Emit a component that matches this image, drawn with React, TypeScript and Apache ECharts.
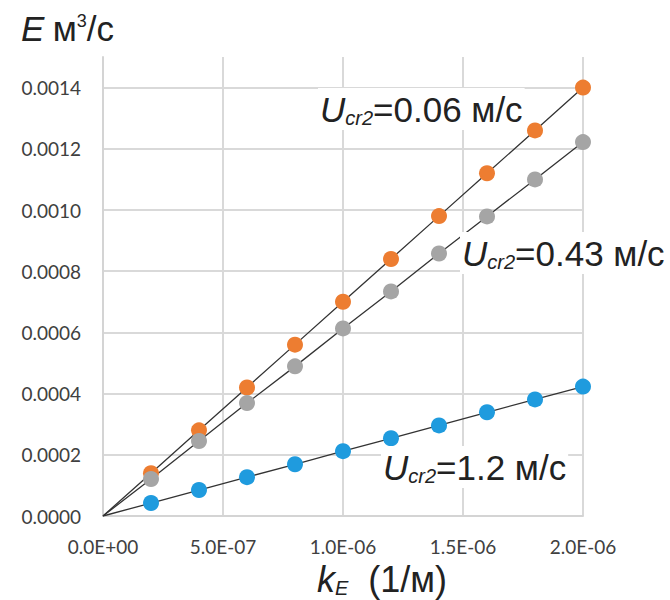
import React, { useEffect, useRef } from "react";
import * as echarts from "echarts";

const kValues = [2e-7, 4e-7, 6e-7, 8e-7, 1.0e-6, 1.2e-6, 1.4e-6, 1.6e-6, 1.8e-6, 2.0e-6];
const eU006 = [0.00014, 0.00028, 0.00042, 0.00056, 0.0007, 0.00084, 0.00098, 0.00112, 0.00126, 0.0014];
const eU043 = [0.000121, 0.000245, 0.000369, 0.000489, 0.000613, 0.000734, 0.000858, 0.000979, 0.0011, 0.001222];
const eU12 = [0.0000424, 0.0000848, 0.000127, 0.000169, 0.000212, 0.000254, 0.000296, 0.000339, 0.000381, 0.000423];

const seriesNames = ["Ucr2=0.06", "Ucr2=0.43", "Ucr2=1.2"];
const seriesColors = ["#ED7D31", "#A5A5A5", "#1F9BDE"];

const fmtSci = (v: number) => {
  if (Math.abs(v) < 1e-15) return "0.0E+00";
  let exp = Math.floor(Math.log10(Math.abs(v)) + 1e-9);
  let mant = v / Math.pow(10, exp);
  if (Math.round(mant * 10) / 10 >= 10) {
    exp += 1;
    mant = v / Math.pow(10, exp);
  }
  const sign = exp < 0 ? "-" : "+";
  return `${mant.toFixed(1)}E${sign}${String(Math.abs(exp)).padStart(2, "0")}`;
};

export default function App() {
  const ref = useRef<HTMLDivElement>(null);
  useEffect(() => {
    if (!ref.current) return;
    const chart = echarts.init(ref.current, null, { renderer: "svg" });
    const mk = (vals: number[], i: number) => ({
      name: seriesNames[i],
      type: "line",
      data: [
        { value: [0, 0], symbol: "none" },
        ...kValues.map((k, j) => [k, vals[j]]),
      ],
      symbol: "circle",
      symbolSize: 16,
      itemStyle: { color: seriesColors[i] },
      lineStyle: { color: "#333333", width: 1.3 },
      z: 3,
    });
    const labelRich = (size: number) => ({
      u: { fontFamily: "Liberation Sans", fontStyle: "italic", fontSize: size, fill: "#222" },
      s: { fontFamily: "Liberation Sans", fontStyle: "italic", fontSize: Math.round(size * 0.58), fill: "#222", padding: [Math.round(size * 0.5), 0, 0, 0] },
      t: { fontFamily: "Liberation Sans", fontSize: size, fill: "#222" },
    });
    const labelBox = (text: string, left: number, top: number) => ({
      type: "text",
      left,
      top,
      z: 10,
      style: {
        text,
        rich: labelRich(35),
        backgroundColor: "#ffffff",
        padding: [2, 2, 2, 2],
      },
    });
    chart.setOption({
      animation: false,
      backgroundColor: "#ffffff",
      grid: { left: 103, right: 87, top: 57, bottom: 84, containLabel: false },
      xAxis: {
        type: "value",
        min: 0,
        max: 2e-6,
        interval: 5e-7,
        axisLine: { show: true, lineStyle: { color: "#d4d4d4", width: 2 } },
        axisTick: { show: false },
        splitLine: { show: true, lineStyle: { color: "#d9d9d9", width: 2 } },
        axisLabel: {
          formatter: fmtSci,
          fontFamily: "Lato",
          fontSize: 19,
          color: "#404040",
          margin: 21,
        },
      },
      yAxis: {
        type: "value",
        min: 0,
        max: 0.0015,
        interval: 0.0002,
        axisLine: { show: true, lineStyle: { color: "#d4d4d4", width: 2 } },
        axisTick: { show: false },
        splitLine: { show: true, showMaxLine: false, lineStyle: { color: "#d9d9d9", width: 2 } },
        axisLabel: {
          formatter: (v: number) => v.toFixed(4),
          showMaxLabel: false,
          fontFamily: "Lato",
          fontSize: 19,
          color: "#404040",
          margin: 22,
        },
      },
      series: [mk(eU006, 0), mk(eU043, 1), mk(eU12, 2)],
      graphic: [
        {
          type: "text",
          left: 21,
          top: 11,
          style: {
            text: "{e|E}{g| }{t|м}{p|3}{t|/с}",
            rich: {
              e: { fontFamily: "Liberation Sans", fontStyle: "italic", fontSize: 35, fill: "#222" },
              g: { fontFamily: "Liberation Sans", fontSize: 30, fill: "#222" },
              t: { fontFamily: "Liberation Sans", fontSize: 35, fill: "#222" },
              p: { fontFamily: "Liberation Sans", fontSize: 18, fill: "#222", padding: [0, 0, 15, 0] },
            },
          },
        },
        {
          type: "text",
          left: 317,
          top: 561,
          style: {
            text: "{k|k}{s|E}{t|  (1/м)}",
            rich: {
              k: { fontFamily: "Liberation Sans", fontStyle: "italic", fontSize: 36, fill: "#222" },
              s: { fontFamily: "Liberation Sans", fontStyle: "italic", fontSize: 20, fill: "#222", padding: [18, 0, 0, 0] },
              t: { fontFamily: "Liberation Sans", fontSize: 36, fill: "#222" },
            },
          },
        },
        labelBox("{u|U}{s|cr2}{t|=0.06 м/с}", 318, 88),
        labelBox("{u|U}{s|cr2}{t|=0.43 м/с}", 460, 232),
        labelBox("{u|U}{s|cr2}{t|=1.2 м/с}", 381, 446),
      ],
    });
    return () => chart.dispose();
  }, []);
  return (
    <div
      ref={ref}
      style={{ position: "fixed", left: 0, top: 0, width: 670, height: 600, background: "#fff" }}
    />
  );
}
